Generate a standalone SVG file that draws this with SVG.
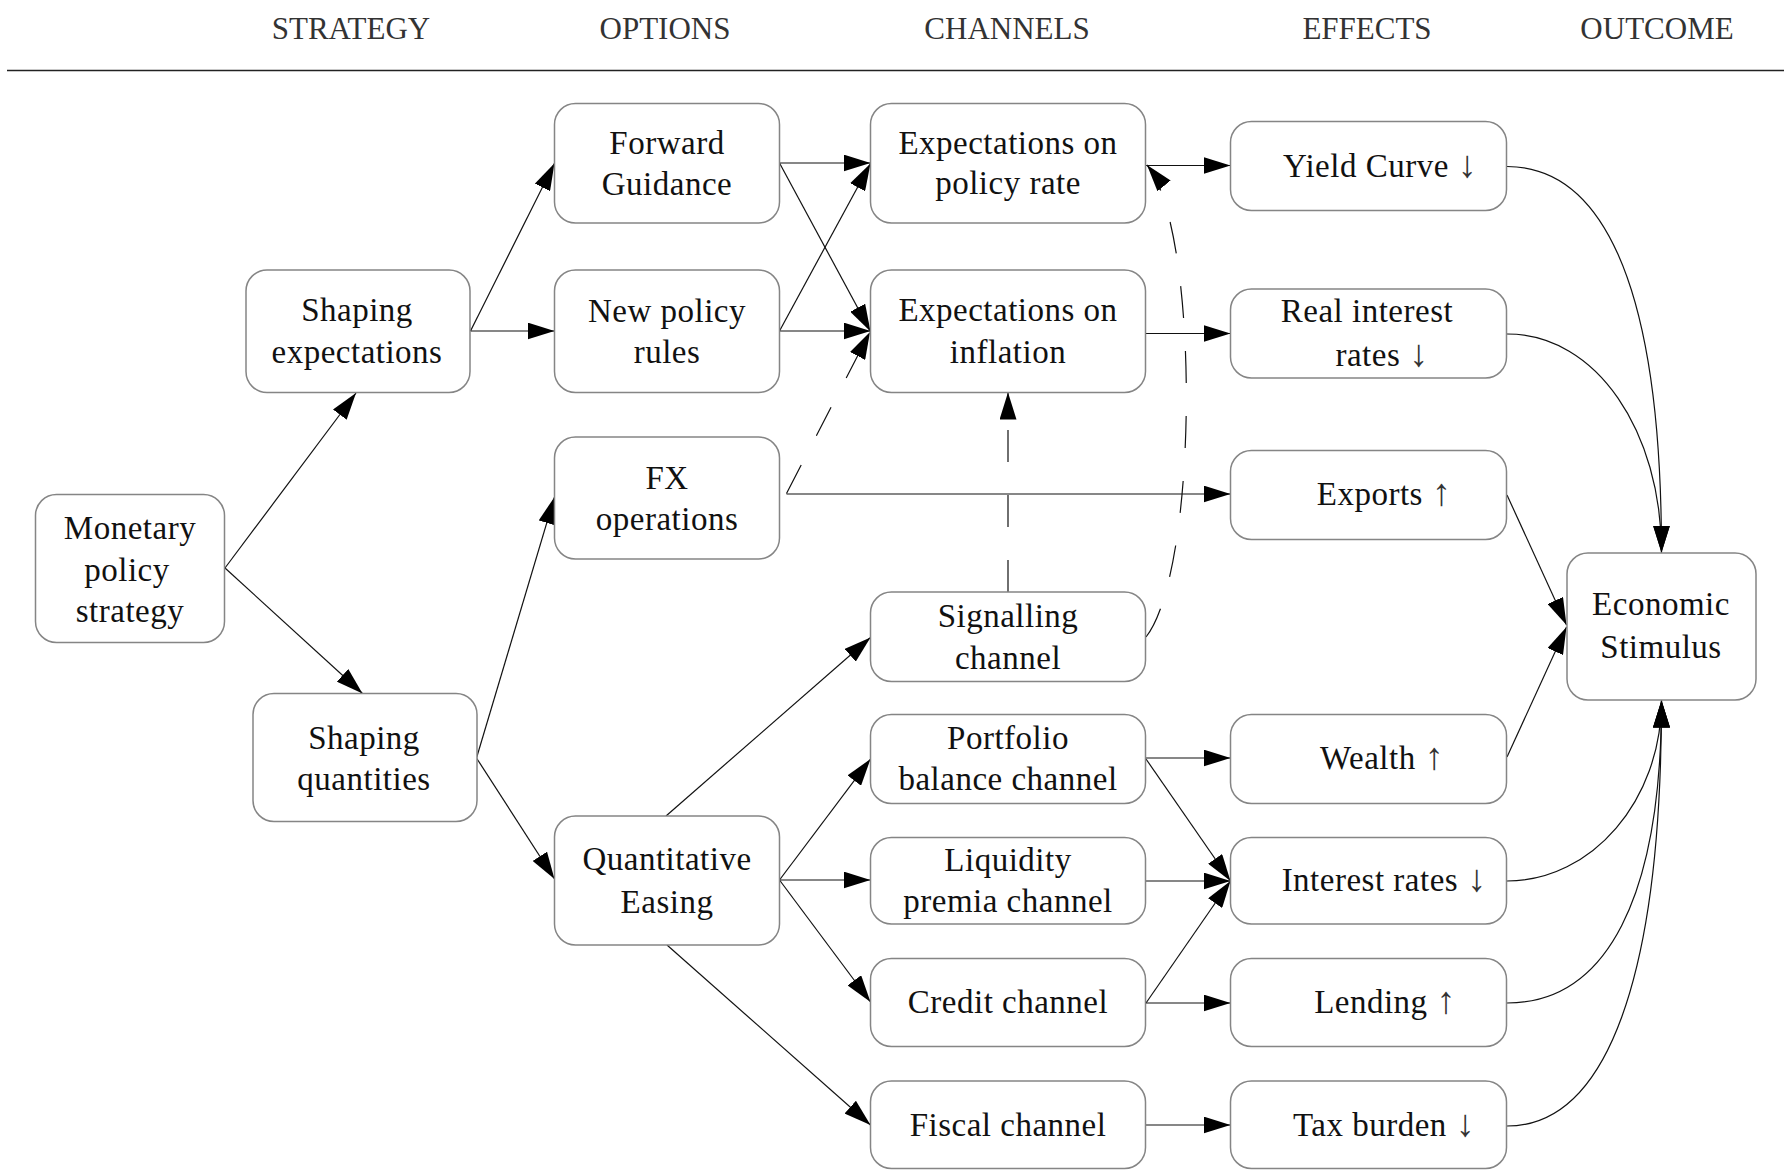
<svg xmlns="http://www.w3.org/2000/svg" width="1784" height="1170" viewBox="0 0 1784 1170">
  <style>
    .box { fill: #fff; stroke: #858585; stroke-width: 1.5; }
    .lbl { font-family: "Liberation Serif", "DejaVu Serif", serif; font-size: 33px; letter-spacing: 0.5px; fill: #111; text-anchor: middle; }
    .ar { font-size: 38px; fill: #333; }
    .hdr { font-family: "Liberation Serif", "DejaVu Serif", serif; font-size: 31px; fill: #333; text-anchor: middle; }
    .c { fill: none; stroke: #111; stroke-width: 1.2; marker-end: url(#ah); }
    .d { fill: none; stroke: #111; stroke-width: 1.2; stroke-dasharray: 32 33; marker-end: url(#ah); }
  </style>
  <defs>
    <marker id="ah" viewBox="0 0 27 17" refX="27" refY="8.5" markerWidth="27" markerHeight="17" markerUnits="userSpaceOnUse" orient="auto">
      <path d="M0,0 L27,8.5 L0,17 z" fill="#000"/>
    </marker>
  </defs>

  <rect width="1784" height="1170" fill="#fff"/>

  <!-- column headings -->
  <g id="headings">
    <text class="hdr" x="351" y="39">STRATEGY</text>
    <text class="hdr" x="665" y="39">OPTIONS</text>
    <text class="hdr" x="1007" y="39">CHANNELS</text>
    <text class="hdr" x="1367" y="39">EFFECTS</text>
    <text class="hdr" x="1657" y="39">OUTCOME</text>
    <path d="M7,70.5 L1784,70.5" stroke="#222" stroke-width="1.5"/>
  </g>

  <!-- connectors -->
  <g id="connectors">
    <path class="c" d="M225,568 L356,393"/>
    <path class="c" d="M225,568 L362.5,693.5"/>
    <path class="c" d="M470.5,331 L554.5,163.3"/>
    <path class="c" d="M470.5,331 L554.5,331"/>
    <path class="c" d="M476.5,758 L554.5,497"/>
    <path class="c" d="M476.5,758 L554.5,879"/>
    <path class="c" d="M779.5,163 L870.5,163"/>
    <path class="c" d="M779.5,163 L870.5,331.5"/>
    <path class="c" d="M779.5,331 L870.5,163.5"/>
    <path class="c" d="M779.5,331 L870.5,331"/>
    <path class="d" d="M786.5,493.5 L870,332"/>
    <path class="c" d="M786.5,494 L1230.5,494"/>
    <path class="d" d="M1008,592 L1008,392.5"/>
    <path class="d" d="M1146,637 C1198.7,569.8 1200.5,230.5 1147,165"/>
    <path class="c" d="M1146,165.5 L1230.5,165.5"/>
    <path class="c" d="M1146,333.5 L1230.5,333.5"/>
    <path class="c" d="M666,816 L870.5,637.5"/>
    <path class="c" d="M779.5,880 L870.5,759"/>
    <path class="c" d="M779.5,880 L870.5,880"/>
    <path class="c" d="M779.5,880 L870.5,1002"/>
    <path class="c" d="M667,945 L870.5,1125"/>
    <path class="c" d="M1146,758 L1230.5,758"/>
    <path class="c" d="M1146,759 L1230.5,881"/>
    <path class="c" d="M1146,881 L1230.5,881"/>
    <path class="c" d="M1146,1003 L1230.5,881"/>
    <path class="c" d="M1146,1003 L1230.5,1003"/>
    <path class="c" d="M1146,1125 L1230.5,1125"/>
    <path class="c" d="M1507,166.5 C1597,166.5 1661.5,272 1661.5,552.5"/>
    <path class="c" d="M1507,334 C1597,334 1661.5,432 1661.5,552.5"/>
    <path class="c" d="M1507,495 L1566.5,625"/>
    <path class="c" d="M1507,757 L1566.5,627"/>
    <path class="c" d="M1507,881 C1592,881 1661.5,800 1661.5,700.5"/>
    <path class="c" d="M1507,1003 C1607,1003 1661.5,897 1661.5,700.5"/>
    <path class="c" d="M1507,1126 C1607,1126 1661.5,977 1661.5,700.5"/>
  </g>

  <!-- strategy -->
  <g id="monetary">
    <rect class="box" x="35.5" y="494.5" width="189" height="148" rx="21"/>
    <text class="lbl" x="130" y="538.5">Monetary</text>
    <text class="lbl" x="127" y="580.5">policy</text>
    <text class="lbl" x="130" y="622">strategy</text>
  </g>
  <g id="shaping-expectations">
    <rect class="box" x="246" y="270" width="224" height="122.5" rx="21"/>
    <text class="lbl" x="357" y="321">Shaping</text>
    <text class="lbl" x="357" y="363">expectations</text>
  </g>
  <g id="shaping-quantities">
    <rect class="box" x="253" y="693.5" width="224" height="128" rx="21"/>
    <text class="lbl" x="364" y="748.5">Shaping</text>
    <text class="lbl" x="364" y="790">quantities</text>
  </g>

  <!-- options -->
  <g id="forward-guidance">
    <rect class="box" x="554.5" y="103.5" width="225" height="119.5" rx="21"/>
    <text class="lbl" x="667" y="153.5">Forward</text>
    <text class="lbl" x="667" y="195">Guidance</text>
  </g>
  <g id="new-policy-rules">
    <rect class="box" x="554.5" y="270" width="225" height="122.5" rx="21"/>
    <text class="lbl" x="667" y="321.5">New policy</text>
    <text class="lbl" x="667" y="362.5">rules</text>
  </g>
  <g id="fx-operations">
    <rect class="box" x="554.5" y="437" width="225" height="122" rx="21"/>
    <text class="lbl" x="667" y="488.5">FX</text>
    <text class="lbl" x="667" y="530">operations</text>
  </g>
  <g id="quantitative-easing">
    <rect class="box" x="554.5" y="816" width="225" height="129" rx="21"/>
    <text class="lbl" x="667" y="870">Quantitative</text>
    <text class="lbl" x="667" y="913">Easing</text>
  </g>

  <!-- channels -->
  <g id="exp-policy-rate">
    <rect class="box" x="870.5" y="103.5" width="275" height="119.5" rx="21"/>
    <text class="lbl" x="1008" y="153.5">Expectations on</text>
    <text class="lbl" x="1008" y="194">policy rate</text>
  </g>
  <g id="exp-inflation">
    <rect class="box" x="870.5" y="270" width="275" height="122.5" rx="21"/>
    <text class="lbl" x="1008" y="321">Expectations on</text>
    <text class="lbl" x="1008" y="363">inflation</text>
  </g>
  <g id="signalling">
    <rect class="box" x="870.5" y="592" width="275" height="89.5" rx="21"/>
    <text class="lbl" x="1008" y="626.5">Signalling</text>
    <text class="lbl" x="1008" y="668.5">channel</text>
  </g>
  <g id="portfolio">
    <rect class="box" x="870.5" y="714.5" width="275" height="89" rx="21"/>
    <text class="lbl" x="1008" y="748.5">Portfolio</text>
    <text class="lbl" x="1008" y="790">balance channel</text>
  </g>
  <g id="liquidity">
    <rect class="box" x="870.5" y="837.5" width="275" height="86.5" rx="21"/>
    <text class="lbl" x="1008" y="870.5">Liquidity</text>
    <text class="lbl" x="1008" y="912">premia channel</text>
  </g>
  <g id="credit">
    <rect class="box" x="870.5" y="958.5" width="275" height="88" rx="21"/>
    <text class="lbl" x="1008" y="1013">Credit channel</text>
  </g>
  <g id="fiscal">
    <rect class="box" x="870.5" y="1081" width="275" height="87.5" rx="21"/>
    <text class="lbl" x="1008" y="1136">Fiscal channel</text>
  </g>

  <!-- effects -->
  <g id="yield-curve">
    <rect class="box" x="1230.5" y="121.5" width="276" height="89" rx="21"/>
    <text class="lbl" x="1380" y="176.5">Yield Curve <tspan class="ar">↓</tspan></text>
  </g>
  <g id="real-interest">
    <rect class="box" x="1230.5" y="289" width="276" height="89" rx="21"/>
    <text class="lbl" x="1367" y="322">Real interest</text>
    <text class="lbl" x="1382" y="365.5">rates <tspan class="ar">↓</tspan></text>
  </g>
  <g id="exports">
    <rect class="box" x="1230.5" y="450.5" width="276" height="89" rx="21"/>
    <text class="lbl" x="1384" y="505">Exports <tspan class="ar">↑</tspan></text>
  </g>
  <g id="wealth">
    <rect class="box" x="1230.5" y="714.5" width="276" height="89" rx="21"/>
    <text class="lbl" x="1382" y="768.5">Wealth <tspan class="ar">↑</tspan></text>
  </g>
  <g id="interest-rates">
    <rect class="box" x="1230.5" y="837.5" width="276" height="86.5" rx="21"/>
    <text class="lbl" x="1384" y="890.5">Interest rates <tspan class="ar">↓</tspan></text>
  </g>
  <g id="lending">
    <rect class="box" x="1230.5" y="958.5" width="276" height="88" rx="21"/>
    <text class="lbl" x="1385" y="1013">Lending <tspan class="ar">↑</tspan></text>
  </g>
  <g id="tax-burden">
    <rect class="box" x="1230.5" y="1081" width="276" height="87.5" rx="21"/>
    <text class="lbl" x="1384" y="1135.5">Tax burden <tspan class="ar">↓</tspan></text>
  </g>

  <!-- outcome -->
  <g id="economic-stimulus">
    <rect class="box" x="1567" y="553" width="189" height="147" rx="21"/>
    <text class="lbl" x="1661" y="615">Economic</text>
    <text class="lbl" x="1661" y="658">Stimulus</text>
  </g>
</svg>
